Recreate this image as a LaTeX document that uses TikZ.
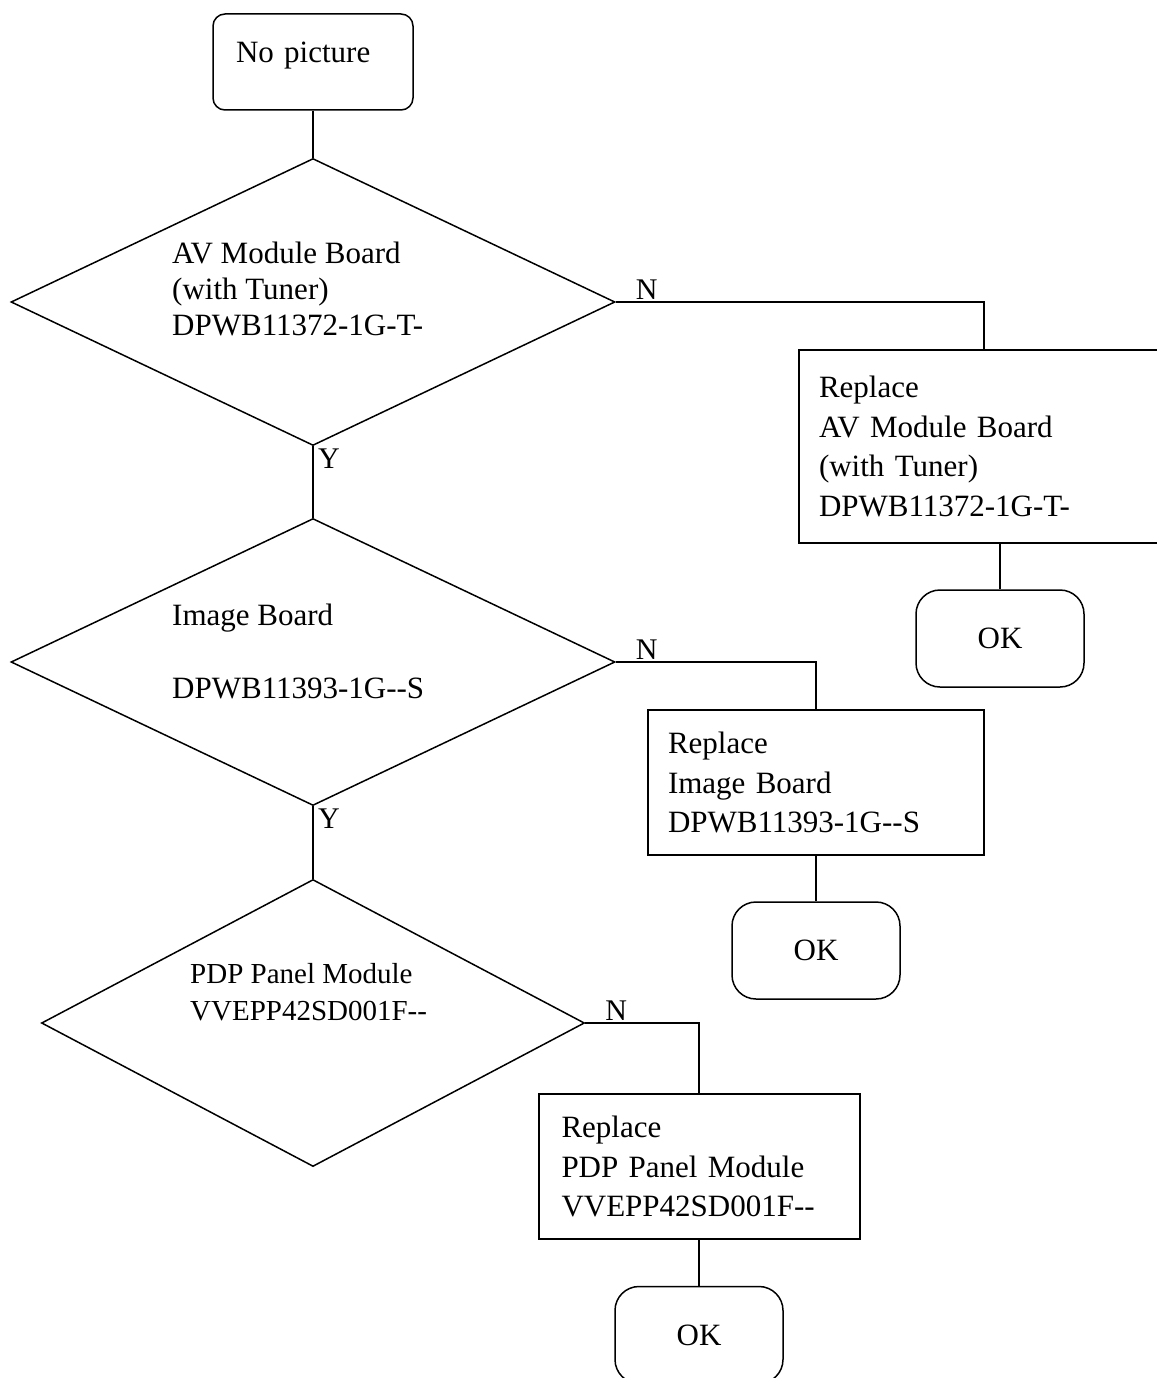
\documentclass[tikz,border=0pt]{standalone}
\usepackage{fontspec}
\setmainfont{Liberation Serif}
\usetikzlibrary{shapes.geometric,positioning}

\begin{document}
\begin{tikzpicture}[x=1pt,y=-1pt]
\tikzset{Top/.style={draw,line width=1.5pt,rounded corners=12pt,minimum height=96pt,text width=154pt,inner xsep=23pt,align=left,text depth=19pt,font=\fontsize{31}{36}\selectfont}}
\tikzset{Dec/.style={diamond,draw,line width=1.5pt,inner sep=0pt,aspect=2,minimum height=287pt}}
\tikzset{Txt/.style={anchor=north west,inner sep=0pt,align=left,font=\fontsize{31}{36}\selectfont}}
\tikzset{Rep/.style={draw,line width=2pt,inner xsep=20pt,align=left,font=\fontsize{31}{39.5}\selectfont}}
\tikzset{End/.style={draw,line width=1.5pt,rounded corners=24pt,minimum width=168pt,minimum height=97pt,font=\fontsize{31}{36}\selectfont}}
\tikzset{Lbl/.style={inner sep=2pt,font=\fontsize{30}{36}\selectfont}}
\tikzset{L/.style={line width=1.5pt}}

\useasboundingbox (0,0) rectangle (1156,1378);

  \node[Top] (start) at (313,62) {No picture};

  \node[Dec,minimum width=604pt] (d1) at (313,302) {};
  \node[Dec,minimum width=604pt] (d2) at (313,662) {};
  \node[Dec,minimum width=543pt] (d3) at (313,1023) {};

  \node[Txt] (t1) at (172,242) {AV Module Board\\(with Tuner)\\DPWB11372-1G-T-};
  \node[Txt] (t2) at (172,604) {Image Board\\[37pt]DPWB11393-1G-{}-S};
  \node[Txt,font=\fontsize{29}{37}\selectfont] (t3) at (190,963) {PDP Panel Module\\VVEPP42SD001F-{}-};

  \node[Rep,text width=362pt,minimum height=193pt] (r1) at (1000,446.5) {Replace\\AV Module Board\\(with Tuner)\\DPWB11372-1G-T-};
  \node[Rep,text width=296pt,minimum height=145pt] (r2) at (816,782.5) {Replace\\Image Board\\DPWB11393-1G-{}-S};
  \node[Rep,text width=275pt,inner xsep=23pt,minimum height=145pt] (r3) at (699,1166.5) {Replace\\PDP Panel Module\\VVEPP42SD001F-{}-};

  \node[End] (o1) at (1000,638.5) {OK};
  \node[End] (o2) at (816,950.5) {OK};
  \node[End] (o3) at (699,1335) {OK};

  \node[Lbl,anchor=south west] (n1) at ([xshift=18pt]d1.east) {N};
  \node[Lbl,anchor=south west] (n2) at ([xshift=18pt]d2.east) {N};
  \node[Lbl,anchor=south west] (n3) at ([xshift=18pt]d3.east) {N};
  \node[Lbl,anchor=north west] (y1) at ([xshift=3pt]d1.south) {Y};
  \node[Lbl,anchor=north west] (y2) at ([xshift=3pt]d2.south) {Y};

  \draw[L] (start) -- (d1);
  \draw[L] (d1) -- (d2);
  \draw[L] (d2) -- (d3);
  \draw[L] (d1.east) -| ([xshift=-16pt]r1.north);
  \draw[L] (d2.east) -| (r2.north);
  \draw[L] (d3.east) -| (r3.north);
  \draw[L] (r1) -- (o1);
  \draw[L] (r2) -- (o2);
  \draw[L] (r3) -- (o3);
\end{tikzpicture}
\end{document}
